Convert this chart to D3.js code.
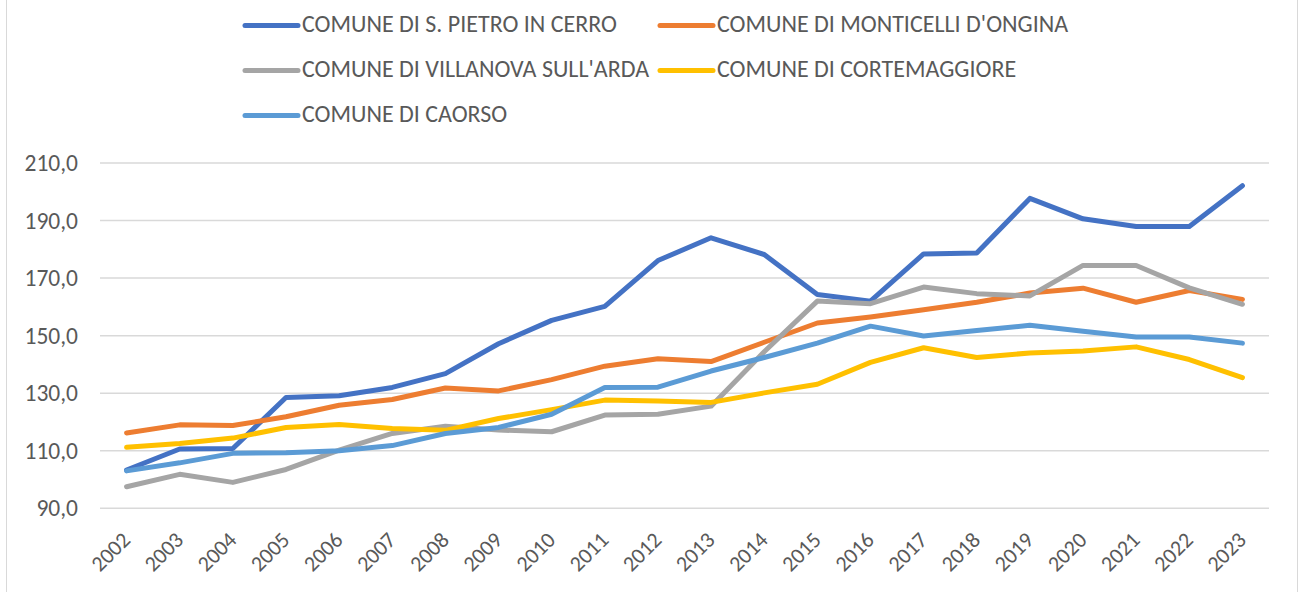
<!DOCTYPE html>
<html>
<head>
<meta charset="utf-8">
<script src="https://cdn.jsdelivr.net/npm/d3@7"></script>
<style>
  html, body { margin: 0; padding: 0; background: #fff; }
  svg { display: block; }
  text { font-family: "Carlito", "Liberation Sans", Arial, sans-serif; fill: #595959; }
</style>
</head>
<body>
<svg id="chart" width="1301" height="592"></svg>
<script>
// Years on the category axis
const years = ["2002","2003","2004","2005","2006","2007","2008","2009","2010","2011",
               "2012","2013","2014","2015","2016","2017","2018","2019","2020","2021","2022","2023"];

// Series names (legend order = drawing order)
const seriesNames = [
  "COMUNE DI S. PIETRO IN CERRO",
  "COMUNE DI MONTICELLI D'ONGINA",
  "COMUNE DI VILLANOVA SULL'ARDA",
  "COMUNE DI CORTEMAGGIORE",
  "COMUNE DI CAORSO"
];

const sPietroInCerro = [103.3,110.6,110.8,128.5,129.1,132.0,136.8,147.2,155.3,160.2,176.1,184.0,178.2,164.3,162.0,178.4,178.7,197.7,190.6,187.9,187.9,202.1];
const monticelliDOngina = [116.2,119.0,118.8,121.8,125.8,127.8,131.8,130.8,134.7,139.4,142.0,141.0,147.7,154.4,156.5,159.0,161.6,164.8,166.5,161.6,165.7,162.6];
const villanovaSullArda = [97.5,101.8,99.0,103.5,110.2,116.0,118.5,117.2,116.6,122.4,122.7,125.5,144.4,162.0,161.1,166.9,164.6,163.8,174.4,174.4,166.6,160.9];
const cortemaggiore = [111.2,112.5,114.4,118.1,119.1,117.7,117.1,121.2,124.3,127.6,127.3,126.8,130.1,133.1,140.7,145.8,142.4,144.0,144.7,146.1,141.7,135.4];
const caorso = [103.0,105.8,109.1,109.3,110.0,111.8,116.0,118.1,122.7,132.0,132.1,137.7,142.4,147.4,153.3,149.9,151.8,153.6,151.5,149.5,149.5,147.4];

const yTicks = [90, 110, 130, 150, 170, 190, 210];

const colors = ["#4472C4", "#ED7D31", "#A5A5A5", "#FFC000", "#5B9BD5"];
const allValues = [sPietroInCerro, monticelliDOngina, villanovaSullArda, cortemaggiore, caorso];

const svg = d3.select("#chart");
const H = 592;
const FONT = "Carlito, 'Liberation Sans', Arial, sans-serif";

// Outer chart border
svg.append("rect")
  .attr("x", 6.5).attr("y", -2).attr("width", 1291).attr("height", H + 4)
  .attr("fill", "#fff").attr("stroke", "#D9D9D9").attr("stroke-width", 1);

const plot = { left: 100, right: 1269, top: 163, bottom: 508.3 };

const x = d3.scaleBand().domain(years).range([plot.left, plot.right]);
const y = d3.scaleLinear().domain([90, 210]).range([plot.bottom, plot.top]);

const locale = d3.formatLocale({ decimal: ",", thousands: ".", grouping: [3], currency: ["€", ""] });
const fmt = locale.format(".1f");

// Horizontal gridlines
svg.append("g")
  .selectAll("line")
  .data(yTicks)
  .join("line")
  .attr("x1", plot.left).attr("x2", plot.right)
  .attr("y1", d => y(d)).attr("y2", d => y(d))
  .attr("stroke", "#D9D9D9").attr("stroke-width", 1.5);

// Y axis labels
const yAxis = d3.axisLeft(y).tickValues(yTicks).tickFormat(fmt).tickSize(0).tickPadding(0);
const gy = svg.append("g").attr("transform", `translate(78,0)`).call(yAxis);
gy.select(".domain").remove();
gy.selectAll("text")
  .attr("font-size", "23.5px")
  .attr("fill", "#595959")
  .attr("font-family", FONT);

// X axis labels, rotated
const xAxis = d3.axisBottom(x).tickSize(0).tickPadding(0);
const gx = svg.append("g").attr("transform", `translate(0,${plot.bottom})`).call(xAxis);
gx.select(".domain").remove();
gx.selectAll(".tick text")
  .attr("font-size", "22px")
  .attr("fill", "#595959")
  .attr("font-family", FONT)
  .attr("text-anchor", "end")
  .attr("dy", null)
  .attr("y", 0)
  .attr("transform", "translate(5,33) rotate(-45)");

// Series lines
const line = d3.line()
  .x((d, i) => x(years[i]) + x.bandwidth() / 2)
  .y(d => y(d));

svg.append("g")
  .selectAll("path")
  .data(allValues)
  .join("path")
  .attr("d", d => line(d))
  .attr("fill", "none")
  .attr("stroke", (d, i) => colors[i])
  .attr("stroke-width", 5)
  .attr("stroke-linejoin", "round")
  .attr("stroke-linecap", "round");

// Legend
const legendPos = [
  { lx: 243, ly: 25.5 }, { lx: 658, ly: 25.5 },
  { lx: 243, ly: 70.5 }, { lx: 658, ly: 70.5 },
  { lx: 243, ly: 115.5 }
];
const legend = svg.append("g")
  .selectAll("g")
  .data(seriesNames)
  .join("g")
  .attr("transform", (d, i) => `translate(${legendPos[i].lx},${legendPos[i].ly})`);
legend.append("line")
  .attr("x1", 2).attr("x2", 55).attr("y1", 0).attr("y2", 0)
  .attr("stroke", (d, i) => colors[i])
  .attr("stroke-width", 5)
  .attr("stroke-linecap", "round");
legend.append("text")
  .attr("x", 59).attr("y", 0).attr("dy", "0.29em")
  .attr("font-size", "24px")
  .attr("font-family", FONT)
  .text(d => d);
</script>
</body>
</html>
